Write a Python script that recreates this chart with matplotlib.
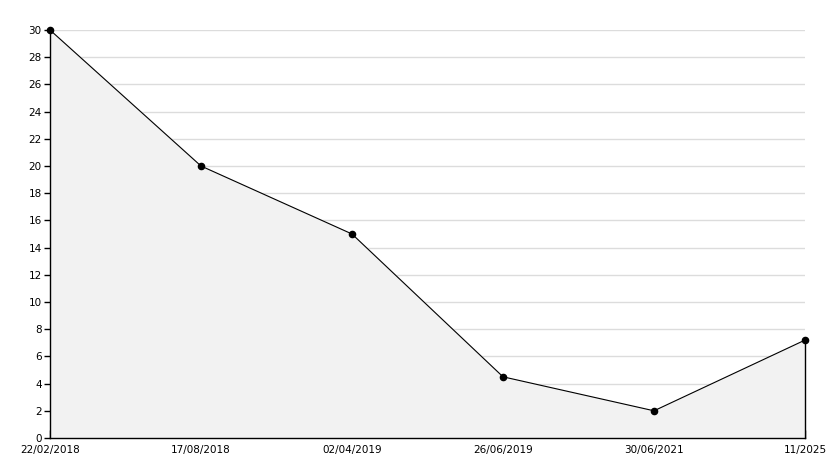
import matplotlib.pyplot as plt
import numpy as np

# datos
fechas = ['22/02/2018', '17/08/2018', '02/04/2019', '26/06/2019', '30/06/2021', '11/2025']
valores = [30, 20, 15, 4.5, 2, 7.2]

fig = plt.figure(figsize=(8.34, 4.68), dpi=100)
ax = fig.add_axes([50 / 834, 1 - 438 / 468, 755 / 834, 408 / 468])

x = np.arange(len(fechas))

# area rellena y linea
ax.fill_between(x, valores, 0, color='#f2f2f2', zorder=1)
ax.plot(x, valores, color='black', lw=0.8, zorder=3, clip_on=False)
ax.plot([x[-1], x[-1]], [0, valores[-1]], color='black', lw=1.0, zorder=3, clip_on=False)
ax.scatter(x, valores, s=20, color='black', marker='o', zorder=4, clip_on=False)

ax.set_xlim(0, len(fechas) - 1)
ax.set_ylim(0, 30)

# rejilla horizontal
ax.set_yticks(np.arange(0, 31, 2))
ax.set_yticks(np.arange(1, 30, 2), minor=True)
ax.yaxis.grid(True, color='#dcdcdc', lw=1.0, zorder=0)
ax.set_axisbelow(True)

ax.set_xticks(x)
ax.set_xticklabels(fechas)

for s in ['top', 'right']:
    ax.spines[s].set_visible(False)
for s in ['left', 'bottom']:
    ax.spines[s].set_linewidth(1.0)

ax.tick_params(axis='y', which='major', direction='out', length=4, width=1, labelsize=7.5, pad=2)
ax.tick_params(axis='y', which='minor', direction='in', length=4, width=1)
ax.tick_params(axis='x', which='major', direction='in', length=6, width=1, labelsize=7.5, pad=5)

plt.savefig('out.png', dpi=100)
plt.close()
